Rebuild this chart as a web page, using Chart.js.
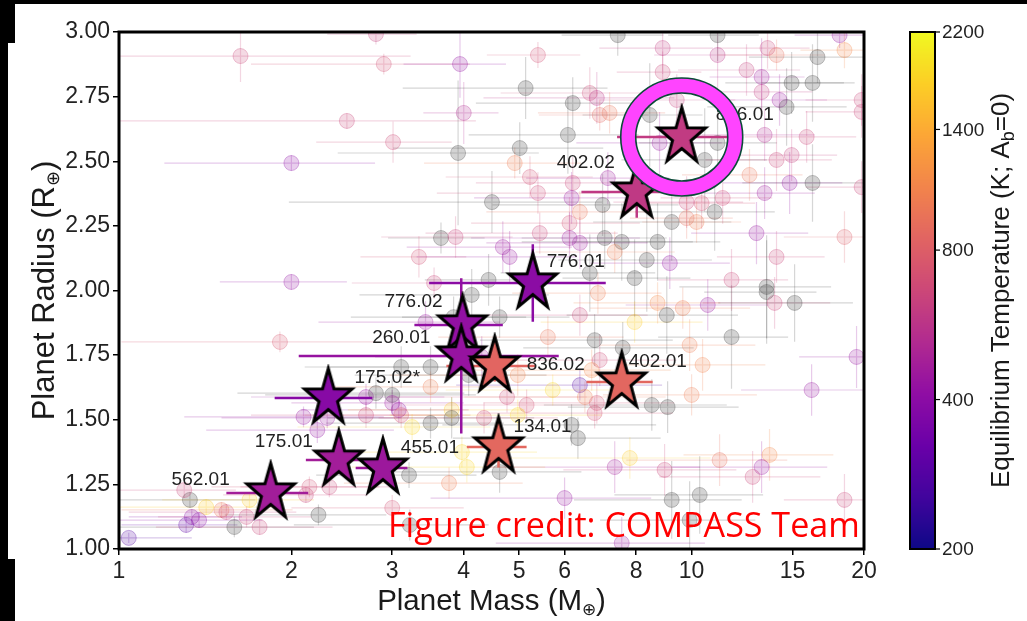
<!DOCTYPE html>
<html>
<head>
<meta charset="utf-8">
<title>Planet Mass vs Planet Radius</title>
<script src="https://cdn.jsdelivr.net/npm/chart.js@4.4.1/dist/chart.umd.min.js"></script>
<style>
  html, body { margin: 0; padding: 0; background: #fff; }
  canvas { display: block; }
</style>
</head>
<body>
<canvas id="mr" width="1027" height="621"></canvas>
<script>
// Ejes
const MASS_TICKS = [1, 2, 3, 4, 5, 6, 8, 10, 15, 20];
const RADIUS_TICKS = [1.00, 1.25, 1.50, 1.75, 2.00, 2.25, 2.50, 2.75, 3.00];
const TEMP_TICKS = [200, 400, 800, 1400, 2200];

// Objetivos COMPASS (estrellas)
const starNames = ['562.01', '175.01', '455.01', '175.02*', '776.02', '260.01',
                   '836.02', '134.01', '776.01', '402.01', '402.02', '836.01'];
const starMass = [1.84, 2.42, 2.89, 2.32, 3.98, 3.96, 4.53, 4.60, 5.28, 7.55, 8.02, 9.61];
const starRadius = [1.217, 1.344, 1.313, 1.584, 1.867, 1.747, 1.708, 1.395, 2.029, 1.646, 2.381, 2.594];
const starTemp = [470, 470, 450, 390, 420, 430, 850, 870, 400, 860, 590, 600];
const starMassErr = [0.30, 0.30, 0.30, 0.45, 0.70, 1.90, 0.80, 0.55, 1.80, 1.00, 1.60, 2.20];
const starRadiusErr = [0.05, 0.04, 0.04, 0.05, 0.08, 0.30, 0.06, 0.08, 0.15, 0.05, 0.10, 0.05];
// posición de las etiquetas respecto a la estrella (px)
const starLabelOffset = [[-70, -13], [-55, -18], [47, -20], [59, -20], [-49, -23], [-60, -18],
                         [61, -1], [44, -20], [43, -21], [36, -20], [-51, -29], [63, -22]];
const HIGHLIGHT = 11; // 836.01 con el anillo

// Planetas conocidos (fondo). null = sin Teq (gris)
const bgMass = [
  1.63, 2.81, 2.90, 3.94, 4.00, 2.50, 3.01, 3.91, 2.00, 4.48, 3.65, 3.87, 3.34, 2.00, 3.55, 4.42,
  5.39, 7.43, 8.90, 11.10, 11.10, 13.57, 14.07, 16.59, 18.49, 18.13, 5.13, 6.64, 8.90, 12.47, 13.25, 13.25,
  14.95, 16.26, 6.20, 6.83, 6.91, 7.19, 8.45, 9.42, 14.24, 14.65, 19.81, 6.08, 5.01, 4.91, 5.22,
  5.39, 6.20, 6.17, 6.38, 6.99, 7.14, 8.79, 11.10, 10.54, 13.41, 15.88, 12.62, 14.07, 14.95, 14.83, 16.26,
  19.81, 19.81, 13.41, 9.80, 10.41, 11.33, 10.97, 9.23, 9.80, 10.20, 8.72, 8.35, 9.16, 7.95, 7.05, 7.55,
  7.34, 6.12, 6.12, 6.38, 5.43, 4.68, 4.81, 12.98, 18.49, 14.07, 11.74, 13.52, 6.64,
  1.91, 1.04, 1.31, 1.34, 1.38, 1.33, 1.30, 1.42, 1.51, 1.54, 1.59, 1.67, 1.76, 1.69, 2.15, 2.12,
  2.23, 2.33, 3.00, 3.21, 2.10, 2.22, 2.31, 2.70, 2.70, 2.81, 3.00, 3.11, 3.50, 3.00, 3.08, 3.11,
  3.25, 3.50, 3.50, 3.81, 3.81, 4.05, 3.77, 3.97, 3.43, 3.84, 4.13, 4.34, 4.08, 4.30,
  4.62, 6.38, 6.86, 7.95, 8.72, 9.65, 9.05, 10.67, 13.96, 15.13, 13.52, 5.61, 6.77, 7.58, 9.92, 11.74,
  6.91, 10.45, 4.97, 5.72, 6.38, 6.69, 5.15, 4.76, 6.51, 6.83, 6.77, 8.52, 9.08, 10.00, 16.20, 19.41,
  4.97, 6.17, 6.33, 7.80, 7.34, 8.97, 11.19, 13.68, 13.25, 12.78, 18.49, 6.00, 9.23, 10.33, 9.92, 4.62,
  7.55, 3.22
];
const bgRadius = [
  2.907, 2.992, 2.876, 2.876, 2.687, 2.656, 2.574, 2.532, 2.493, 2.342, 2.203, 2.207, 2.130, 2.033, 2.029, 2.041,
  2.911, 2.988, 2.938, 2.911, 2.988, 2.938, 2.911, 2.903, 2.930, 2.988, 2.783, 2.764, 2.845, 2.853, 2.826, 2.768,
  2.803, 2.803, 2.725, 2.745, 2.679, 2.687, 2.679, 2.737, 2.737, 2.710, 2.737, 2.602, 2.551, 2.493, 2.439,
  2.377, 2.416, 2.358, 2.304, 2.331, 2.435, 2.571, 2.571, 2.505, 2.602, 2.594, 2.447, 2.505, 2.524, 2.416, 2.416,
  2.400, 2.691, 2.377, 2.342, 2.338, 2.358, 2.304, 2.265, 2.280, 2.265, 2.188, 2.118, 2.106, 2.048, 2.203, 2.188,
  2.149, 2.261, 2.203, 2.184, 2.222, 2.168, 2.130, 2.222, 2.207, 2.130, 2.041, 2.014, 2.068,
  1.801, 1.043, 1.093, 1.124, 1.112, 1.190, 1.228, 1.162, 1.151, 1.143, 1.085, 1.124, 1.085, 1.190, 1.240, 1.209,
  1.132, 1.240, 1.159, 1.286, 1.511, 1.460, 1.507, 1.588, 1.518, 1.603, 1.596, 1.704, 1.704, 1.565, 1.538, 1.518,
  1.472, 1.487, 1.627, 1.538, 1.507, 1.317, 1.255, 1.375, 1.878, 1.897, 1.983, 1.507, 1.673, 1.743,
  1.897, 1.905, 1.990, 1.878, 1.952, 1.932, 1.905, 1.944, 1.952, 1.952, 1.994, 1.820, 1.808, 1.778, 1.789, 1.820,
  1.731, 1.712, 1.673, 1.615, 1.634, 1.692, 1.557, 1.588, 1.588, 1.565, 1.526, 1.557, 1.549, 1.596, 1.615, 1.743,
  1.518, 1.480, 1.429, 1.352, 1.317, 1.306, 1.344, 1.364, 1.317, 1.279, 1.190, 1.197, 1.190, 1.209, 1.112, 1.298,
  1.023, 1.093
];
const bgTemp = [
  650, 620, 700, 420, 520, 650, 680, null, 400, null, null, 640, 700, 420, 650, null,
  700, null, 600, 560, null, 650, 900, null, 1100, 430, null, 680, 650, 620, 450, 600,
  null, null, null, 560, 850, 950, null, 620, 440, null, 650, null, null, 1000, 700,
  680, 650, 430, 950, null, 450, 430, null, null, 520, 650, 950, 650, 620, 420, null,
  650, 650, 450, 650, 700, 680, null, null, 900, 1000, null, null, 420, null, null, null,
  1000, 700, 430, 450, 650, 440, 430, 430, 800, 650, 650, null, null,
  750, 280, 300, 380, 400, null, 650, 1700, 950, 650, null, 650, 650, 1700, 700, 650,
  null, 650, 700, null, 430, 420, 430, 430, 650, null, null, null, null, 440, 420, 760,
  1800, null, 1000, 1700, null, 1800, 1000, 1800, 440, null, null, 700, null, 430,
  null, 650, 1000, 1700, 1100, 1000, null, 430, 650, null, null, 950, null, null, 1000, null,
  680, 1050, 1050, 1800, 280, 1100, 700, 680, 1000, 700, 700, null, null, 1000, 430, 430,
  1800, null, null, 1700, 470, 650, 900, 1100, 440, 650, 650, 430, null, null, null, null,
  430, null
];
const bgMassErr = [
  1.6, 0.5, 1.2, 0.8, 0.6, 1.7, 0.8, 1.5, 0.8, 2.5, 0.7, 1.0, 0.7, 0.5, 1.0, 1.0,
  1.0, 1.5, 2.0, 2.5, 2.0, 2.5, 3.0, 4.0, 3.0, 3.0, 2.0, 2.0, 1.5, 3.0, 2.5, 3.0,
  3.5, 3.0, 2.0, 2.5, 1.5, 1.8, 2.0, 2.5, 3.0, 4.0, 4.0, 2.0, 2.0, 1.5, 1.5,
  1.8, 2.0, 2.0, 2.0, 2.5, 2.0, 2.5, 3.0, 3.0, 3.0, 3.5, 3.0, 3.5, 3.0, 3.5, 4.0,
  4.0, 4.0, 3.0, 2.5, 2.5, 2.5, 3.0, 2.5, 2.0, 2.0, 2.5, 2.5, 2.5, 2.0, 2.0, 2.5,
  2.0, 2.0, 2.0, 2.0, 2.0, 1.5, 1.5, 3.0, 4.0, 3.0, 3.0, 4.0, 2.0,
  0.9, 0.3, 0.3, 0.3, 0.4, 0.4, 0.3, 0.5, 0.5, 0.5, 0.6, 0.5, 0.6, 0.5, 0.7, 0.6,
  0.7, 0.7, 1.0, 1.0, 0.8, 0.8, 0.8, 1.0, 1.0, 1.2, 1.2, 1.0, 1.2, 1.0, 1.0, 1.0,
  1.2, 1.2, 1.2, 1.3, 1.5, 1.5, 1.3, 1.4, 1.2, 1.3, 1.5, 1.5, 1.5, 1.5,
  1.5, 2.0, 2.0, 2.5, 2.5, 3.0, 3.0, 3.0, 3.5, 4.0, 3.0, 2.0, 2.5, 2.5, 3.0, 3.0,
  2.5, 3.0, 2.0, 2.0, 2.5, 2.5, 2.0, 1.8, 2.5, 2.5, 2.5, 3.0, 3.0, 3.0, 4.0, 4.0,
  2.0, 2.5, 2.5, 3.0, 3.0, 3.0, 3.5, 4.0, 4.0, 4.0, 4.0, 2.5, 3.0, 3.0, 3.0, 1.8,
  3.0, 1.2
];
const bgRadiusErr = [
  0.10, 0.04, 0.04, 0.13, 0.12, 0.03, 0.08, 0.28, 0.03, 0.12, 0.06, 0.08, 0.08, 0.03, 0.06, 0.10,
  0.05, 0.08, 0.10, 0.15, 0.10, 0.08, 0.06, 0.10, 0.07, 0.05, 0.12, 0.10, 0.08, 0.10, 0.15, 0.08,
  0.12, 0.15, 0.10, 0.10, 0.06, 0.08, 0.20, 0.10, 0.10, 0.15, 0.10, 0.15, 0.10, 0.06, 0.08,
  0.08, 0.10, 0.10, 0.08, 0.12, 0.10, 0.12, 0.15, 0.20, 0.10, 0.10, 0.10, 0.12, 0.10, 0.12, 0.15,
  0.10, 0.10, 0.10, 0.10, 0.10, 0.10, 0.15, 0.15, 0.08, 0.08, 0.15, 0.20, 0.10, 0.15, 0.12, 0.15,
  0.08, 0.10, 0.10, 0.10, 0.08, 0.10, 0.10, 0.12, 0.10, 0.10, 0.12, 0.20, 0.15,
  0.04, 0.02, 0.03, 0.03, 0.03, 0.03, 0.03, 0.03, 0.03, 0.03, 0.04, 0.04, 0.03, 0.03, 0.04, 0.03,
  0.04, 0.04, 0.05, 0.05, 0.04, 0.05, 0.04, 0.05, 0.05, 0.06, 0.06, 0.08, 0.08, 0.05, 0.05, 0.05,
  0.05, 0.06, 0.06, 0.05, 0.08, 0.06, 0.06, 0.06, 0.08, 0.08, 0.10, 0.06, 0.08, 0.08,
  0.08, 0.08, 0.08, 0.08, 0.08, 0.08, 0.15, 0.10, 0.10, 0.15, 0.20, 0.08, 0.10, 0.10, 0.10, 0.20,
  0.10, 0.10, 0.08, 0.06, 0.06, 0.08, 0.06, 0.06, 0.06, 0.08, 0.06, 0.10, 0.10, 0.08, 0.10, 0.12,
  0.06, 0.08, 0.08, 0.08, 0.10, 0.10, 0.10, 0.10, 0.10, 0.10, 0.10, 0.08, 0.15, 0.15, 0.15, 0.08,
  0.10, 0.06
];

// Mapa de color "plasma" (escala log de Teq, 200–2200 K)
const PLASMA = ['#0d0887', '#41049d', '#6a00a8', '#8f0da4', '#b12a90', '#cc4778',
                '#e16462', '#f2844b', '#fca636', '#fcce25', '#f0f921'];
const T_MIN = 200, T_MAX = 2200;

function hexRgb(h) {
  return [1, 3, 5].map(i => parseInt(h.slice(i, i + 2), 16));
}
function plasma(f) {
  f = Math.min(1, Math.max(0, f));
  const s = f * (PLASMA.length - 1);
  const i = Math.min(Math.floor(s), PLASMA.length - 2);
  const t = s - i;
  const a = hexRgb(PLASMA[i]), b = hexRgb(PLASMA[i + 1]);
  return a.map((v, k) => Math.round(v + (b[k] - v) * t));
}
function tempFrac(T) {
  return (Math.log10(T) - Math.log10(T_MIN)) / (Math.log10(T_MAX) - Math.log10(T_MIN));
}
function tempColor(T, alpha) {
  const [r, g, b] = plasma(tempFrac(T));
  return `rgba(${r}, ${g}, ${b}, ${alpha})`;
}

const GRAY = a => `rgba(70, 70, 70, ${a})`;
const bgFill = bgTemp.map(T => T === null ? GRAY(0.24) : tempColor(T, 0.2));
const bgEdge = bgTemp.map(T => T === null ? GRAY(0.30) : tempColor(T, 0.30));
const bgBar = bgTemp.map(T => T === null ? GRAY(0.22) : tempColor(T, 0.22));

// Estrella rellena (el 'star' de Chart.js es un asterisco)
function makeStar(fill) {
  const rx = 25, ry = 29.5, inner = 0.39;
  const c = document.createElement('canvas');
  c.width = 58; c.height = 68;
  const g = c.getContext('2d');
  const cx = c.width / 2, cy = c.height / 2;
  g.beginPath();
  for (let i = 0; i < 10; i++) {
    const a = -Math.PI / 2 + i * Math.PI / 5;
    const k = i % 2 ? inner : 1;
    g.lineTo(cx + Math.cos(a) * rx * k, cy + Math.sin(a) * ry * k);
  }
  g.closePath();
  g.fillStyle = fill;
  g.fill();
  g.lineWidth = 3;
  g.lineJoin = 'miter';
  g.strokeStyle = '#000';
  g.stroke();
  return c;
}
const starImgs = starTemp.map(T => makeStar(tempColor(T, 1)));

const FONT = "'Liberation Sans', Arial, Helvetica, sans-serif";

// Texto con sub-índices: partes [{t, size, dy}]
function drawRich(ctx, parts, cx, baseY) {
  let total = 0;
  parts.forEach(p => { ctx.font = `${p.size}px ${FONT}`; p.w = ctx.measureText(p.t).width; total += p.w; });
  let x = cx - total / 2;
  ctx.textAlign = 'left';
  ctx.textBaseline = 'alphabetic';
  parts.forEach(p => {
    ctx.font = `${p.size}px ${FONT}`;
    ctx.fillText(p.t, x, baseY + (p.dy || 0));
    x += p.w;
  });
}

const errorBars = {
  id: 'errorBars',
  beforeDatasetsDraw(chart) {
    const { ctx, chartArea: a, scales: { x, y } } = chart;
    ctx.save();
    ctx.beginPath();
    ctx.rect(a.left, a.top, a.width, a.height);
    ctx.clip();
    ctx.lineWidth = 1.2;
    bgMass.forEach((m, i) => {
      const r = bgRadius[i];
      const px = x.getPixelForValue(m), py = y.getPixelForValue(r);
      ctx.strokeStyle = bgBar[i];
      ctx.beginPath();
      ctx.moveTo(x.getPixelForValue(Math.max(m - bgMassErr[i], 0.5)), py);
      ctx.lineTo(x.getPixelForValue(m + bgMassErr[i]), py);
      ctx.moveTo(px, y.getPixelForValue(r - bgRadiusErr[i]));
      ctx.lineTo(px, y.getPixelForValue(r + bgRadiusErr[i]));
      ctx.stroke();
    });
    ctx.restore();
  },
  afterDatasetDraw(chart, args) {
    if (args.index !== 1) return; // encima del fondo, debajo de las estrellas
    const { ctx, scales: { x, y } } = chart;
    ctx.save();
    ctx.lineWidth = 2.5;
    starMass.forEach((m, i) => {
      const r = starRadius[i];
      const px = x.getPixelForValue(m), py = y.getPixelForValue(r);
      ctx.strokeStyle = tempColor(starTemp[i], 1);
      ctx.beginPath();
      ctx.moveTo(x.getPixelForValue(m - starMassErr[i]), py);
      ctx.lineTo(x.getPixelForValue(m + starMassErr[i]), py);
      ctx.moveTo(px, y.getPixelForValue(r - starRadiusErr[i]));
      ctx.lineTo(px, y.getPixelForValue(r + starRadiusErr[i]));
      ctx.stroke();
    });
    ctx.restore();
  }
};

const annotations = {
  id: 'annotations',
  afterDatasetsDraw(chart) {
    const { ctx, scales: { x, y } } = chart;
    ctx.save();
    ctx.fillStyle = '#222';
    ctx.font = `19px ${FONT}`;
    ctx.textAlign = 'center';
    ctx.textBaseline = 'middle';
    starNames.forEach((name, i) => {
      const px = x.getPixelForValue(starMass[i]) + starLabelOffset[i][0];
      const py = y.getPixelForValue(starRadius[i]) + starLabelOffset[i][1];
      ctx.fillText(name, px, py);
    });

    // anillo magenta alrededor de 836.01
    const cx = x.getPixelForValue(starMass[HIGHLIGHT]);
    const cy = y.getPixelForValue(starRadius[HIGHLIGHT]);
    ctx.beginPath();
    ctx.ellipse(cx, cy, 61, 59, 0, 0, Math.PI * 2);
    ctx.moveTo(cx + 46, cy);
    ctx.ellipse(cx, cy, 46, 44, 0, 0, Math.PI * 2);
    ctx.fillStyle = '#ff44ff';
    ctx.fill('evenodd');
    ctx.lineWidth = 1.6;
    ctx.strokeStyle = '#0b4a38';
    ctx.beginPath();
    ctx.ellipse(cx, cy, 61, 59, 0, 0, Math.PI * 2);
    ctx.stroke();
    ctx.beginPath();
    ctx.ellipse(cx, cy, 46, 44, 0, 0, Math.PI * 2);
    ctx.stroke();
    ctx.restore();
  }
};

const decorations = {
  id: 'decorations',
  beforeDraw(chart) {
    const { ctx, width, height } = chart;
    ctx.save();
    ctx.fillStyle = '#fff';
    ctx.fillRect(0, 0, width, height);
    ctx.restore();
  },
  afterDraw(chart) {
    const { ctx, chartArea: a } = chart;
    ctx.save();

    // marco
    ctx.lineWidth = 3;
    ctx.strokeStyle = '#000';
    ctx.strokeRect(a.left, a.top, a.right - a.left, a.bottom - a.top);

    // títulos de los ejes
    ctx.fillStyle = '#1a1a1a';
    drawRich(ctx, [
      { t: 'Planet Mass (M', size: 29.5 },
      { t: '\u2295', size: 17, dy: 5 },
      { t: ')', size: 29.5 }
    ], (a.left + a.right) / 2, 610);
    ctx.save();
    ctx.translate(54, (a.top + a.bottom) / 2);
    ctx.rotate(-Math.PI / 2);
    drawRich(ctx, [
      { t: 'Planet Radius (R', size: 31 },
      { t: '\u2295', size: 18, dy: 5 },
      { t: ')', size: 31 }
    ], 0, 0);
    ctx.restore();

    // barra de color (log Teq)
    const cb = { left: 910, right: 935, top: a.top, bottom: a.bottom };
    const h = cb.bottom - cb.top;
    for (let py = cb.top; py < cb.bottom; py++) {
      const [r, g, b] = plasma(1 - (py + 0.5 - cb.top) / h);
      ctx.fillStyle = `rgb(${r}, ${g}, ${b})`;
      ctx.fillRect(cb.left, py, cb.right - cb.left, 1);
    }
    ctx.lineWidth = 2;
    ctx.strokeStyle = '#000';
    ctx.strokeRect(cb.left, cb.top, cb.right - cb.left, h);
    ctx.fillStyle = '#222';
    ctx.font = `19px ${FONT}`;
    ctx.textAlign = 'left';
    ctx.textBaseline = 'middle';
    ctx.lineWidth = 1.2;
    TEMP_TICKS.forEach(T => {
      const py = cb.bottom - tempFrac(T) * h;
      ctx.beginPath();
      ctx.moveTo(cb.right, py);
      ctx.lineTo(cb.right + 5, py);
      ctx.stroke();
      ctx.fillText(String(T), cb.right + 7, py + 1);
    });
    ctx.save();
    ctx.translate(1009, (a.top + a.bottom) / 2);
    ctx.rotate(-Math.PI / 2);
    ctx.fillStyle = '#1a1a1a';
    drawRich(ctx, [
      { t: 'Equilibrium Temperature (K; A', size: 26 },
      { t: 'b', size: 18, dy: 5 },
      { t: '=0)', size: 26 }
    ], 0, 0);
    ctx.restore();

    // crédito
    const credit = 'Figure credit: COMPASS Team';
    ctx.font = "36px 'Open Sans', Lato, sans-serif";
    const size = 36 * 472 / ctx.measureText(credit).width;
    ctx.font = `${size}px 'Open Sans', Lato, sans-serif`;
    ctx.fillStyle = '#ff0000';
    ctx.textAlign = 'left';
    ctx.textBaseline = 'alphabetic';
    ctx.fillText(credit, 388, 537);

    // bordes negros de la captura
    ctx.fillStyle = '#000';
    ctx.fillRect(0, 0, chart.width, 4);
    ctx.fillRect(0, 0, 8, chart.height);
    ctx.fillRect(0, 0, 15, 43);
    ctx.fillRect(0, 559, 15, 62);
    ctx.restore();
  }
};

const tickFont = { family: FONT, size: 23 };

new Chart(document.getElementById('mr'), {
  type: 'scatter',
  data: {
    datasets: [
      {
        label: 'COMPASS TOIs',
        data: starMass.map((m, i) => ({ x: m, y: starRadius[i] })),
        pointStyle: starImgs,
        pointRadius: 12,
        order: 0,
        clip: false
      },
      {
        label: 'Known planets',
        data: bgMass.map((m, i) => ({ x: m, y: bgRadius[i] })),
        pointRadius: 7.5,
        pointBackgroundColor: bgFill,
        pointBorderColor: bgEdge,
        pointBorderWidth: 1,
        order: 1,
        clip: 0
      }
    ]
  },
  options: {
    responsive: false,
    animation: false,
    devicePixelRatio: 1,
    events: [],
    layout: { padding: { left: 0, top: 32, right: 163, bottom: 0 } },
    plugins: {
      legend: { display: false },
      tooltip: { enabled: false }
    },
    scales: {
      x: {
        type: 'logarithmic',
        min: 1,
        max: 20,
        afterBuildTicks: s => { s.ticks = MASS_TICKS.map(v => ({ value: v })); },
        afterFit: s => { s.height = 72; },
        border: { display: false },
        grid: { drawOnChartArea: false, color: '#000', tickColor: '#000', tickLength: 6, lineWidth: 1.5 },
        ticks: {
          autoSkip: false, maxRotation: 0, padding: 3, color: '#222', font: tickFont,
          callback: v => String(v)
        }
      },
      y: {
        min: 1,
        max: 3,
        afterBuildTicks: s => { s.ticks = RADIUS_TICKS.map(v => ({ value: v })); },
        afterFit: s => { s.width = 119; },
        border: { display: false },
        grid: { drawOnChartArea: false, color: '#000', tickColor: '#000', tickLength: 6, lineWidth: 1.5 },
        ticks: {
          autoSkip: false, padding: 3, color: '#222', font: tickFont,
          callback: v => Number(v).toFixed(2)
        }
      }
    }
  },
  plugins: [errorBars, annotations, decorations]
});
</script>
</body>
</html>
